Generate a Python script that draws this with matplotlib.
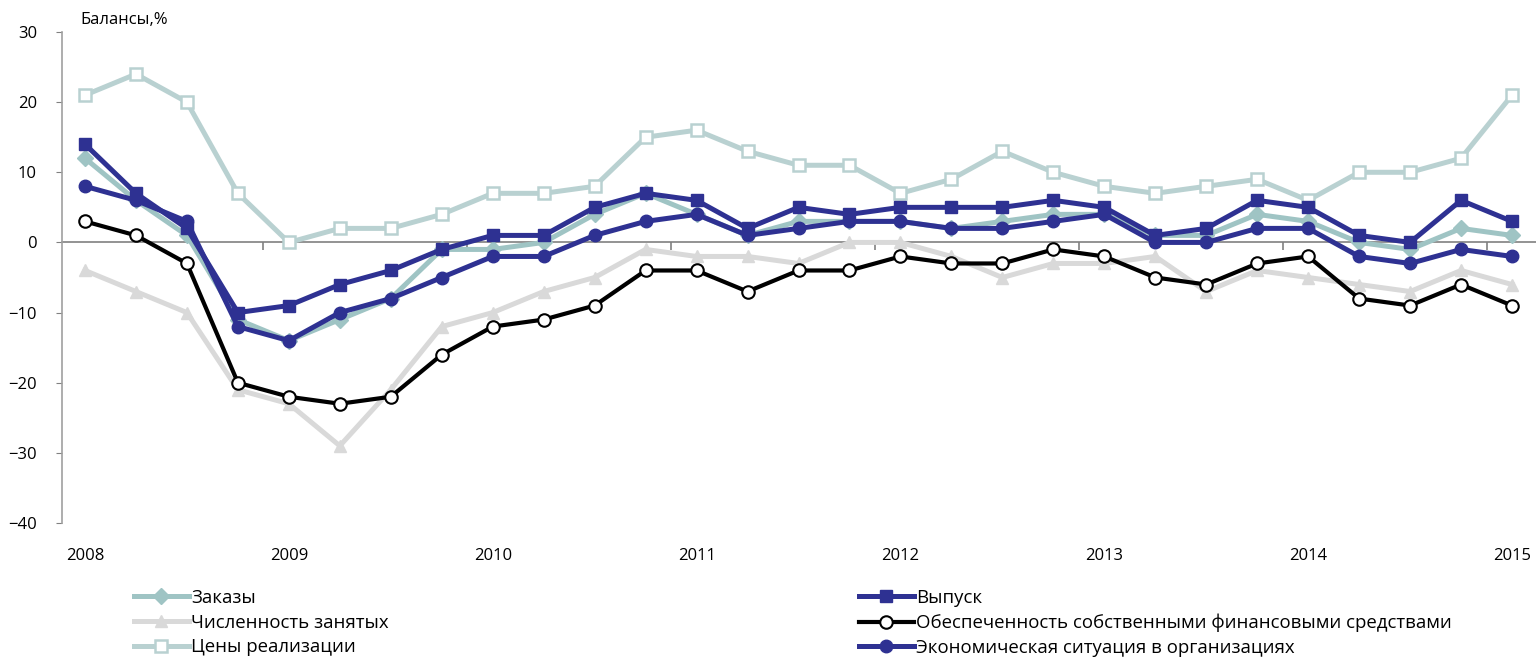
import numpy as np
import matplotlib
matplotlib.use('Agg')
import matplotlib.pyplot as plt
from matplotlib.ticker import FixedLocator

plt.rcParams['font.family'] = ['Open Sans', 'DejaVu Sans']

# quarterly balances, 2008 Q1 .. 2015 Q1
years = ['2008', '2009', '2010', '2011', '2012', '2013', '2014', '2015']
zakazy = [12, 6, 1, -11, -14, -11, -8, -1, -1, 0, 4, 7, 4, 1, 3, 3, 3, 2, 3, 4, 4, 1, 1, 4, 3, 0, -1, 2, 1]
vypusk = [14, 7, 2, -10, -9, -6, -4, -1, 1, 1, 5, 7, 6, 2, 5, 4, 5, 5, 5, 6, 5, 1, 2, 6, 5, 1, 0, 6, 3]
zanyatye = [-4, -7, -10, -21, -23, -29, -21, -12, -10, -7, -5, -1, -2, -2, -3, 0, 0, -2, -5, -3, -3, -2, -7, -4, -5, -6, -7, -4, -6]
finansy = [3, 1, -3, -20, -22, -23, -22, -16, -12, -11, -9, -4, -4, -7, -4, -4, -2, -3, -3, -1, -2, -5, -6, -3, -2, -8, -9, -6, -9]
ceny = [21, 24, 20, 7, 0, 2, 2, 4, 7, 7, 8, 15, 16, 13, 11, 11, 7, 9, 13, 10, 8, 7, 8, 9, 6, 10, 10, 12, 21]
situaciya = [8, 6, 3, -12, -14, -10, -8, -5, -2, -2, 1, 3, 4, 1, 2, 3, 3, 2, 2, 3, 4, 0, 0, 2, 2, -2, -3, -1, -2]

navy = '#2e3192'
teal = '#9fc4c4'
pale = '#b9d1d1'
grey = '#d9d9d9'

x = np.arange(len(vypusk))

fig = plt.figure(figsize=(15.36, 6.59), dpi=100)
ax = fig.add_axes([62 / 1536, (659 - 523) / 659, (1536 - 62) / 1536, (523 - 32) / 659])

l_zan, = ax.plot(x, zanyatye, color=grey, lw=3.6, marker='^', ms=9, mec=grey, mfc=grey,
                 label='Численность занятых', zorder=3)
l_cen, = ax.plot(x, ceny, color=pale, lw=3.6, marker='s', ms=9, mfc='white', mec=pale, mew=1.8,
                 label='Цены реализации', zorder=3)
l_zak, = ax.plot(x, zakazy, color=teal, lw=3.6, marker='D', ms=8, mec=teal, mfc=teal,
                 label='Заказы', zorder=4)
l_fin, = ax.plot(x, finansy, color='black', lw=3, marker='o', ms=9, mfc='white', mec='black', mew=1.5,
                 label='Обеспеченность собственными финансовыми средствами', zorder=5)
l_vyp, = ax.plot(x, vypusk, color=navy, lw=3.6, marker='s', ms=9, mec=navy, mfc=navy,
                 label='Выпуск', zorder=6)
l_sit, = ax.plot(x, situaciya, color=navy, lw=3.6, marker='o', ms=9, mec=navy, mfc=navy,
                 label='Экономическая ситуация в организациях', zorder=6)

ax.set_xlim(-23 / 51, 28 + 24 / 51)
ax.set_ylim(-40, 30)
ax.set_yticks(np.arange(-40, 31, 10))
ax.tick_params(axis='y', direction='out', length=4, color='#808080', labelsize=12, pad=14)
for lab in ax.get_yticklabels():
    lab.set_horizontalalignment('right')

for s in ['top', 'right']:
    ax.spines[s].set_visible(False)
ax.spines['left'].set_color('#a0a0a0')
ax.spines['left'].set_linewidth(1.2)
ax.spines['bottom'].set_position(('data', 0))
ax.spines['bottom'].set_color('#808080')
ax.spines['bottom'].set_linewidth(1.2)
ax.spines['bottom'].set_zorder(2)

ax.set_xticks([])
ax.xaxis.set_minor_locator(FixedLocator(np.arange(3.5, 28, 4)))
ax.tick_params(axis='x', which='minor', direction='out', length=6, color='#808080', width=1.2)

sec = ax.secondary_xaxis('bottom')
sec.set_xticks(np.arange(0, len(x), 4), years)
sec.tick_params(length=0, labelsize=12, pad=18)
sec.spines['bottom'].set_visible(False)

fig.text(80 / 1536, 1 - 20 / 659, 'Балансы,%', fontsize=12, va='center', ha='left')

leg_kw = dict(frameon=False, fontsize=13.4, handlelength=2.95, handletextpad=0.12,
              labelspacing=0.36, borderpad=0, borderaxespad=0, loc='upper left')
leg1 = fig.legend(handles=[l_zak, l_zan, l_cen], bbox_to_anchor=(134 / 1536, 1 - 589 / 659), **leg_kw)
leg2 = fig.legend(handles=[l_vyp, l_fin, l_sit], bbox_to_anchor=(859 / 1536, 1 - 589 / 659), **leg_kw)

fig.savefig('out.png', dpi=100)
